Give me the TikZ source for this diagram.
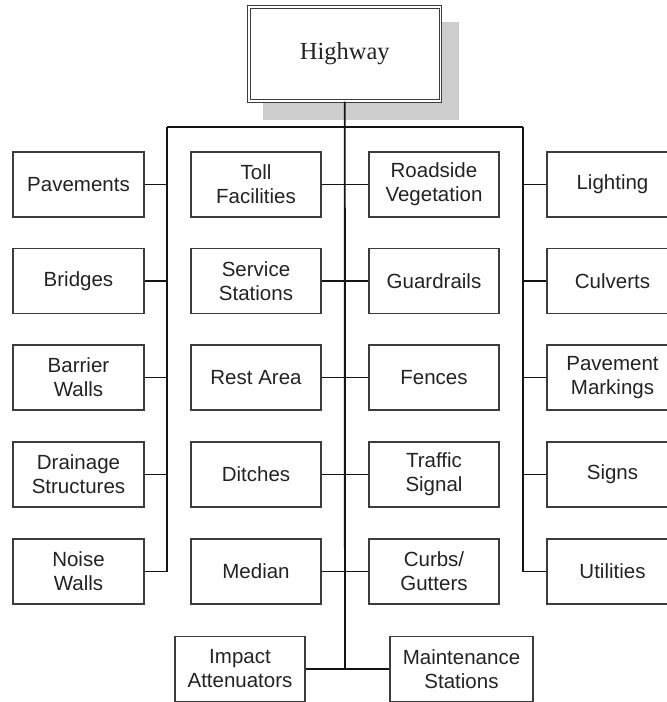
\documentclass[tikz,border=0pt]{standalone}
\usepackage{fontspec}
\setmainfont{Liberation Sans}
\newfontfamily\hwfont{Liberation Serif}
\definecolor{boxc}{RGB}{60,60,60}
\definecolor{txtc}{RGB}{35,35,35}
\definecolor{linec}{RGB}{20,20,20}
\definecolor{shadowc}{RGB}{205,205,205}
\begin{document}
\begin{tikzpicture}[x=1pt,y=-1pt,
  box/.style={draw=boxc, line width=1.1pt, fill=white, minimum width=130pt, minimum height=65pt,
    inner sep=0pt, align=center, font=\fontsize{20.5}{24}\selectfont, text=txtc},
  wbox/.style={box, minimum width=131pt},
  thinline/.style={line width=1.1pt, draw=linec},
  busline/.style={line width=1.9pt, draw=linec}]
\useasboundingbox (0,0) rectangle (667,702);
\clip (0,0) rectangle (667,702);

% shadow and top node
\fill[shadowc] (263,22) rectangle (459,120);
\node[draw=boxc, line width=1pt, double=white, double distance=1.8pt, fill=white,
  minimum width=191.5pt, minimum height=94pt, inner sep=0pt,
  font=\hwfont\fontsize{24.5}{28}\selectfont, text=txtc] (hw) at (344.75,54) {Highway};

% bus coordinates
\coordinate (lb) at (167,127);
\coordinate (rb) at (523,127);
\coordinate (bot) at (345,669);

% column 1
\node[wbox] (pav) at (78.5,184.5) {Pavements};
\node[wbox] (bri) at (78.5,281) {Bridges};
\node[wbox] (bar) at (78.5,377.5) {Barrier\\Walls};
\node[wbox] (dra) at (78.5,474.5) {Drainage\\Structures};
\node[wbox] (noi) at (78.5,571.5) {Noise\\Walls};

% column 2
\node[box] (tol) at (256,184.5) {Toll\\Facilities};
\node[box] (ser) at (256,281) {Service\\Stations};
\node[box] (res) at (256,377.5) {Rest Area};
\node[box] (dit) at (256,474.5) {Ditches};
\node[box] (med) at (256,571.5) {Median};

% column 3
\node[box] (roa) at (434,184.5) {Roadside\\Vegetation};
\node[box] (gua) at (434,281) {Guardrails};
\node[box] (fen) at (434,377.5) {Fences};
\node[box] (tra) at (434,474.5) {Traffic\\Signal};
\node[box] (cur) at (434,571.5) {Curbs/\\Gutters};

% column 4
\node[wbox] (lig) at (612.5,184.5) {Lighting};
\node[wbox] (cul) at (612.5,281) {Culverts};
\node[wbox] (pmk) at (612.5,377.5) {Pavement\\Markings};
\node[wbox] (sig) at (612.5,474.5) {Signs};
\node[wbox] (uti) at (612.5,571.5) {Utilities};

% bottom
\node[box] (imp) at (240,669) {Impact\\Attenuators};
\node[box, minimum width=143pt] (mnt) at (461.5,669) {Maintenance\\Stations};

% buses
\draw[busline] (hw.south) -- (bot);
\draw[busline] (lb) -- (rb);
\draw[busline] (lb) -- (lb |- noi.east);
\draw[busline] (rb) -- (rb |- uti.west);

% connectors
\foreach \n in {pav,bri,bar,dra,noi} \draw[thinline] (\n.east) -- (\n.east -| lb);
\foreach \n in {lig,cul,pmk,sig,uti} \draw[thinline] (\n.west) -- (\n.west -| rb);
\draw[thinline] (tol.east) -- (roa.west);
\draw[thinline] (ser.east) -- (gua.west);
\draw[thinline] (res.east) -- (fen.west);
\draw[thinline] (dit.east) -- (tra.west);
\draw[thinline] (med.east) -- (cur.west);
\draw[thinline] (imp.east) -- (mnt.west);
\end{tikzpicture}
\end{document}
